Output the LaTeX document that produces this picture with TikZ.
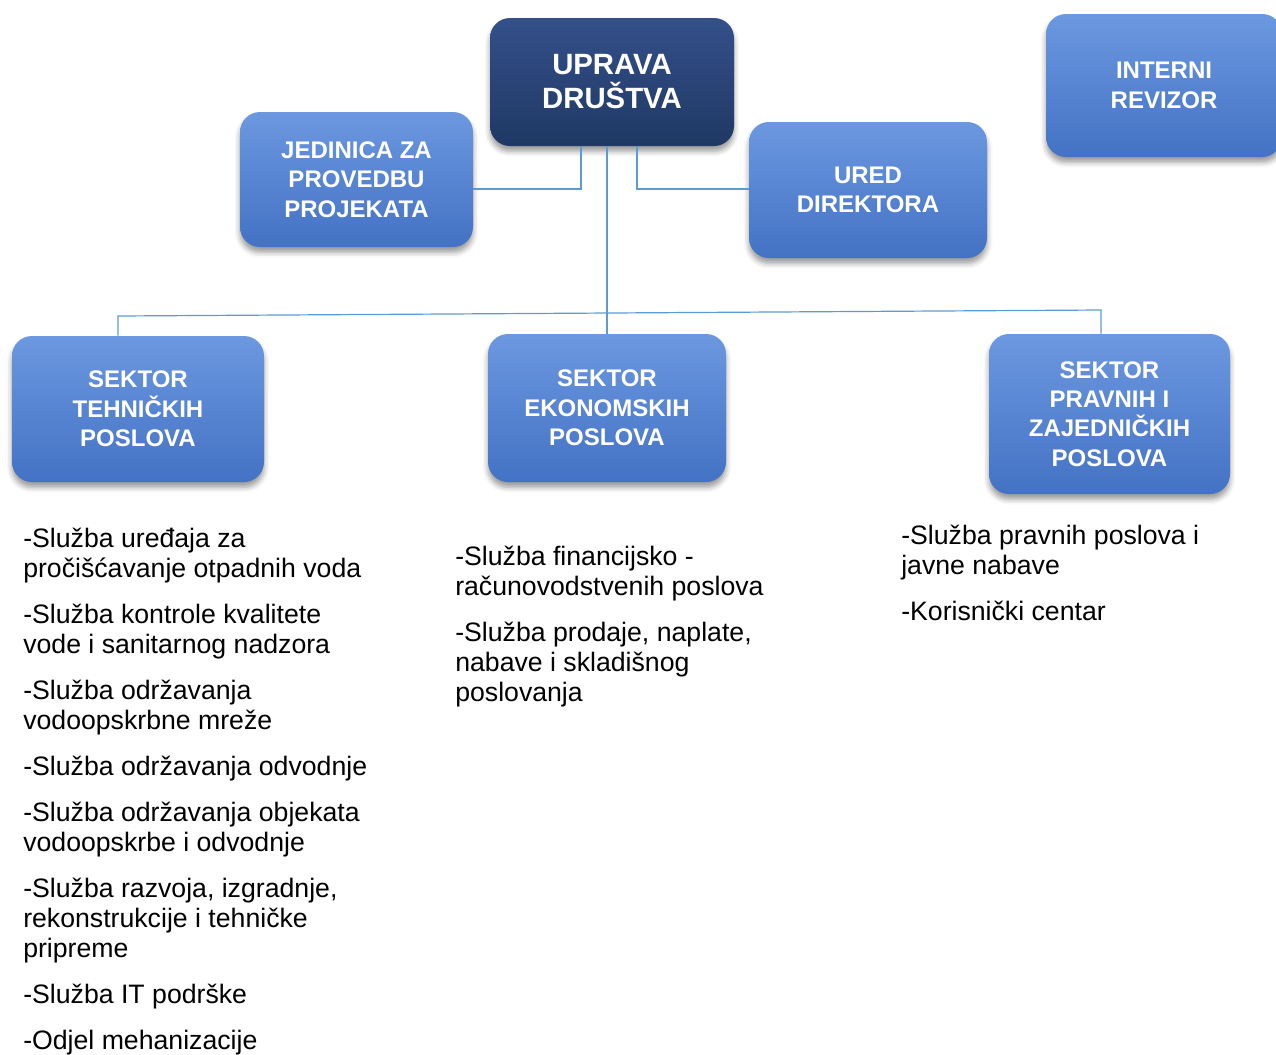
\documentclass[tikz,border=0pt]{standalone}
\usepackage{fontspec}
\setmainfont{Liberation Sans}
\usetikzlibrary{shadows.blur}
\definecolor{boxblue}{HTML}{4472C4}
\definecolor{boxtop}{HTML}{6C98E0}
\definecolor{navy}{HTML}{1F3864}
\definecolor{navytop}{HTML}{34508A}
\definecolor{linkblue}{HTML}{5B9BD5}
\tikzset{
  orgbox/.style={rectangle, rounded corners=15pt, top color=boxtop, middle color=boxblue, bottom color=boxblue,
    blur shadow={shadow xshift=0pt, shadow yshift=-4pt, shadow blur radius=4pt, shadow opacity=40},
    text=white, align=center, font=\fontsize{18}{22}\selectfont\bfseries},
  topbox/.style={orgbox, top color=navytop, middle color=navy, bottom color=navy, font=\fontsize{22}{25.5}\selectfont\bfseries},
  conn/.style={draw=linkblue, line width=0.9pt},
  list/.style={anchor=base west, inner sep=0pt, align=left, font=\fontsize{20}{22.5}\selectfont}
}
\begin{document}
\begin{tikzpicture}[x=0.75pt, y=-0.75pt]
  \useasboundingbox (0,0) rectangle (1276,1054);
  \node[topbox, minimum width=183pt, minimum height=96pt] (uprava) at (612,82) {UPRAVA\\DRUŠTVA};
  \node[orgbox, minimum width=174.75pt, minimum height=101.25pt] (jedinica) at (356.5,179.5) {JEDINICA ZA\\PROVEDBU\\PROJEKATA};
  \node[orgbox, minimum width=178.5pt, minimum height=102pt] (ured) at (868,190) {URED\\DIREKTORA};
  \node[orgbox, minimum width=177pt, minimum height=107.25pt] (revizor) at (1164,85.5) {INTERNI\\REVIZOR};
  \node[orgbox, minimum width=189pt, minimum height=109.5pt] (sTeh) at (138,409) {SEKTOR\\TEHNIČKIH\\POSLOVA};
  \node[orgbox, minimum width=178.5pt, minimum height=111pt] (sEko) at (607,408) {SEKTOR\\EKONOMSKIH\\POSLOVA};
  \node[orgbox, minimum width=180.75pt, minimum height=120pt] (sPrav) at (1109.5,414) {SEKTOR\\PRAVNIH I\\ZAJEDNIČKIH\\POSLOVA};

  \coordinate (jL) at (581,189);
  \coordinate (uR) at (637,189);
  \coordinate (busL) at (118,316);
  \coordinate (busR) at (1101,310);
  \draw[conn] (uprava.south -| jL) -- (jL) -- (jL -| jedinica.east);
  \draw[conn] (uprava.south -| uR) -- (uR) -- (uR -| ured.west);
  \draw[conn] (uprava.south -| sEko.north) -- (sEko.north);
  \draw[conn] (sTeh.north -| busL) -- (busL) -- (busR) -- (busR |- sPrav.north);

  \node[list] (tehList) at (23,1049) {-Služba uređaja za\\pročišćavanje otpadnih voda\\[12pt]
    -Služba kontrole kvalitete\\vode i sanitarnog nadzora\\[12pt]
    -Služba održavanja\\vodoopskrbne mreže\\[12pt]
    -Služba održavanja odvodnje\\[12pt]
    -Služba održavanja objekata\\vodoopskrbe i odvodnje\\[12pt]
    -Služba razvoja, izgradnje,\\rekonstrukcije i tehničke\\pripreme\\[12pt]
    -Služba IT podrške\\[12pt]
    -Odjel mehanizacije};
  \node[list] (ekoList) at (455,701) {-Služba financijsko -\\računovodstvenih poslova\\[12pt]
    -Služba prodaje, naplate,\\nabave i skladišnog\\poslovanja};
  \node[list] (pravList) at (901,620) {-Služba pravnih poslova i\\javne nabave\\[12pt]
    -Korisnički centar};
\end{tikzpicture}
\end{document}
